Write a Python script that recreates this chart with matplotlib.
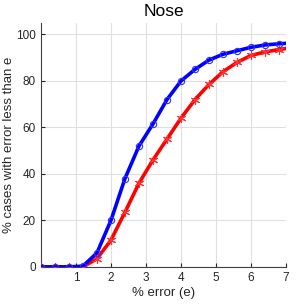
import matplotlib
matplotlib.use("Agg")
import matplotlib.pyplot as plt

plt.rcParams['font.family'] = ['Liberation Sans', 'DejaVu Sans']

# error thresholds (%) where the markers sit
err = [0, 0.4, 0.8, 1.2, 1.6, 2.0, 2.4, 2.8, 3.2, 3.6, 4.0, 4.4, 4.8,
       5.2, 5.6, 6.0, 6.4, 6.8, 7.0]
blue = [0, 0, 0, 0.3, 6, 20, 38, 52, 61.5, 72, 80, 85, 89,
        91.5, 93, 94.5, 95.5, 96, 96.2]
red = [0, 0, 0, 0, 3.5, 11.5, 23.5, 36, 46, 55, 64, 72, 78.5,
       84, 88, 91, 92.5, 93.5, 94]

xticks = [1, 2, 3, 4, 5, 6, 7]
yticks = [0, 20, 40, 60, 80, 100]

fig = plt.figure(figsize=(3.05, 3.05), dpi=100)
ax = fig.add_axes([0.134, 0.125, 0.804, 0.80])

# markers every 0.4, last point at 7 is line-only
ax.plot(err, red, color='red', lw=2.6, zorder=3)
ax.plot(err[:-1], red[:-1], ls='none', marker=(6, 2, 0), ms=6.5,
        mec='#ff3030', mew=0.8, zorder=4)
ax.plot(err, blue, color='blue', lw=2.6, zorder=5)
ax.plot(err[:-1], blue[:-1], ls='none', marker='o', ms=4.5, mfc='none',
        mec='#3030ff', mew=0.8, zorder=6)

ax.set_xlim(0, 7)
ax.set_ylim(0, 105)
ax.set_xticks(xticks)
ax.set_yticks(yticks)
ax.grid(True, color='#e0e0e0', lw=0.8)
ax.set_axisbelow(True)
for s in ['top', 'right']:
    ax.spines[s].set_visible(False)
for s in ['left', 'bottom']:
    ax.spines[s].set_color('#404040')
ax.tick_params(direction='in', length=3, labelsize=8.5, colors='#262626')

ax.set_xlabel('% error (e)', fontsize=9.5, color='#262626', labelpad=2)
ax.set_ylabel('% cases with error less than e', fontsize=9.5, color='#262626', labelpad=1)
ax.set_title('Nose', fontsize=12.5, pad=5)

fig.savefig('out.png', dpi=100)
